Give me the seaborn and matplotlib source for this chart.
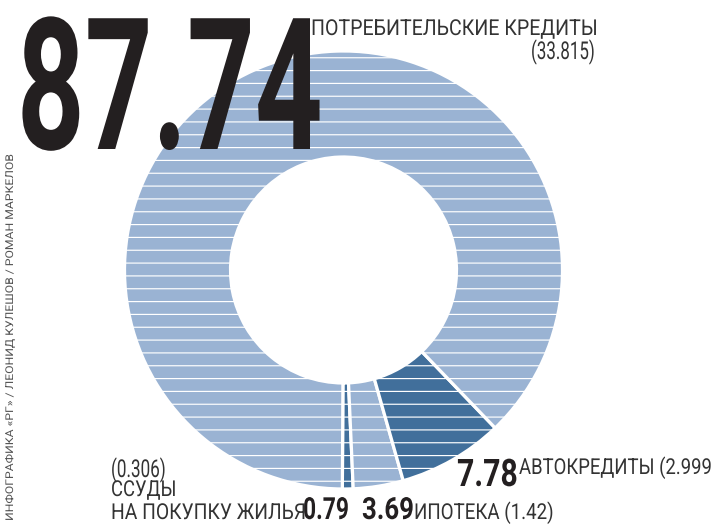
import matplotlib
matplotlib.use("Agg")
import matplotlib.pyplot as plt
import seaborn as sns
from matplotlib.patheffects import AbstractPathEffect
from matplotlib.transforms import Affine2D

# доли кредитов, % (против часовой от низа) и суммы в скобках
categories = ["ССУДЫ НА ПОКУПКУ ЖИЛЬЯ", "ИПОТЕКА", "АВТОКРЕДИТЫ", "ПОТРЕБИТЕЛЬСКИЕ КРЕДИТЫ"]
shares = [0.79, 3.69, 7.78, 87.74]
amounts = ["0.306", "1.42", "2.999", "33.815"]
credit = "ИНФОГРАФИКА «РГ» / ЛЕОНИД КУЛЕШОВ / РОМАН МАРКЕЛОВ"

LIGHT = "#9ab3d3"
DARK = "#416f9b"
INK = "#231f20"
GREY = "#333333"
W, H, DPI = 712, 526, 77


class Squeeze(AbstractPathEffect):
    """Сжимает глифы вдоль строки (узкий шрифт)."""

    def __init__(self, factor):
        super().__init__()
        self.factor = factor

    def draw_path(self, renderer, gc, tpath, affine, rgbFace=None):
        m = affine.get_matrix().copy()
        m[:2, 0] *= self.factor
        renderer.draw_path(gc, tpath, Affine2D(m), rgbFace)


sns.set_theme(style="white")
plt.rcParams["font.family"] = ["Roboto", "DejaVu Sans"]
plt.rcParams["hatch.linewidth"] = 1.1

fig = plt.figure(figsize=(W / DPI, H / DPI), dpi=DPI)
ax = fig.add_axes([0, 0, 1, 1])
renderer = fig.canvas.get_renderer()

colors = sns.color_palette([DARK, LIGHT, DARK, LIGHT])
ax.pie(
    shares,
    colors=colors,
    center=(343.5, H - 270),
    radius=219,
    startangle=-90.3,
    counterclock=True,
    wedgeprops=dict(width=106, edgecolor="white", linewidth=3.0, hatch="-"),
)
ax.set_xlim(0, W)
ax.set_ylim(0, H)
ax.axis("off")


def put(x, y, s, size, length, weight="normal", color=GREY, rotation=0):
    t = ax.text(x, H - y, s, fontsize=size, fontweight=weight, color=color,
                ha="left", va="baseline", rotation=rotation,
                rotation_mode="anchor", zorder=5)
    bb = t.get_window_extent(renderer)
    t.set_path_effects([Squeeze(length / (bb.height if rotation else bb.width))])
    return t


# главная цифра и подписи
put(17, 149, f"{shares[3]:.2f}", 172, 306, weight="bold", color=INK)
put(311, 35, categories[3], 20.5, 285)
put(531, 59, f"({amounts[3]})", 23, 64)

put(457, 486, f"{shares[2]:.2f}", 35.5, 61, weight="bold", color=INK)
put(519, 474, f"{categories[2]} ({amounts[2]}", 20.5, 192)

put(362, 519, f"{shares[1]:.2f}", 28.5, 52, weight="bold", color=INK)
put(414, 519, f"{categories[1]} ({amounts[1]})", 20.5, 139)

put(303, 519, f"{shares[0]:.2f}", 28.5, 46, weight="bold", color=INK)
put(111, 477, f"({amounts[0]})", 23, 55)
line1, line2 = categories[0].split(" ", 1)
put(111, 496, line1, 20.5, 65)
put(111, 519, line2, 20.5, 194)

put(13, 521, credit, 10, 366, color="#555555", rotation=90)

fig.savefig("out.png", dpi=DPI, facecolor="white")
